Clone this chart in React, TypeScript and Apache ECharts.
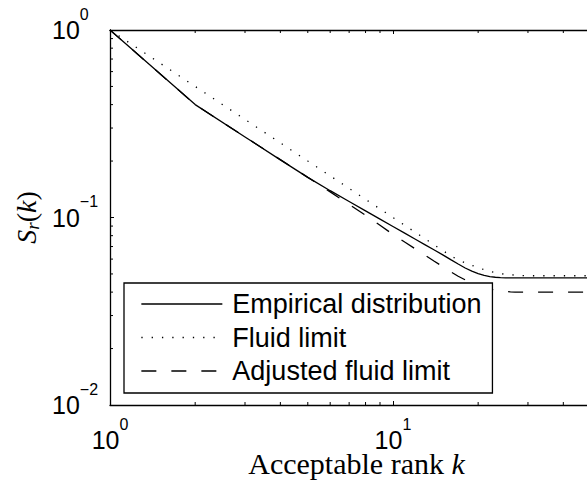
import React, { useEffect, useRef } from 'react';
import * as echarts from 'echarts';

// ---- data ----
const ranks = [1, 2, 3, 4, 5, 6, 7, 8, 9, 10, 11, 12, 13, 14, 15, 16, 17, 18, 19, 20, 21, 22, 23, 24, 25, 26, 27, 28, 29, 30, 35, 40, 45, 50];
const empirical = [1, 0.4, 0.269, 0.203, 0.1636, 0.139, 0.1217, 0.1085, 0.0981, 0.0896, 0.0826, 0.0766, 0.0715, 0.0671, 0.0632, 0.0596, 0.0565, 0.0538, 0.0518, 0.0502, 0.0491, 0.0484, 0.048, 0.0478, 0.0477, 0.0477, 0.0477, 0.0477, 0.0477, 0.0477, 0.0477, 0.0477, 0.0477, 0.0477];
const fluid = [1, 0.5, 0.3333, 0.25, 0.2, 0.1667, 0.1429, 0.125, 0.1111, 0.1, 0.0909, 0.0833, 0.0769, 0.0714, 0.0667, 0.0625, 0.0593, 0.0574, 0.0556, 0.054, 0.0527, 0.0516, 0.0508, 0.0502, 0.0498, 0.0495, 0.0493, 0.0491, 0.049, 0.0489, 0.0489, 0.0489, 0.0489, 0.0489];
const adjusted = [1, 0.4, 0.269, 0.2035, 0.1637, 0.137, 0.1175, 0.1028, 0.0909, 0.0813, 0.074, 0.068, 0.0628, 0.0584, 0.0547, 0.0514, 0.0486, 0.0465, 0.0448, 0.0435, 0.0424, 0.0416, 0.041, 0.0406, 0.0403, 0.0401, 0.04, 0.04, 0.04, 0.04, 0.04, 0.04, 0.04, 0.04];
const seriesNames = ['Empirical distribution', 'Fluid limit', 'Adjusted fluid limit'];
const xMinorTicks = [2, 3, 4, 5, 6, 7, 8, 9, 20, 30, 40];
const yMinorTicks = [0.02, 0.03, 0.04, 0.05, 0.06, 0.07, 0.08, 0.09, 0.2, 0.3, 0.4, 0.5, 0.6, 0.7, 0.8, 0.9];
const xName = 'Acceptable rank {it|k}';
const yName = '{it|S}{sub|r}{up|(}{it|k}{up|)}';

const X_MIN = 1;
const X_MAX = 48.5;
const Y_MIN = 0.01;
const Y_MAX = 1;
const MINOR_LEN = 3;
const SANS = 'Liberation Sans';
const SERIF = 'Liberation Serif';

const expLabel = (v: number) => {
  const e = Math.round(Math.log10(v));
  const s = e < 0 ? '\u2212' + String(-e) : String(e);
  return `{base|10}{sup|${s}}`;
};

const labelRich = {
  base: { fontSize: 25, fontFamily: SANS, color: '#000', lineHeight: 48 },
  sup: { fontSize: 16, fontFamily: SANS, color: '#000', lineHeight: 16, verticalAlign: 'top' },
};

const minorTickSeries = (values: number[], vertical: boolean) => ({
  type: 'custom',
  coordinateSystem: 'cartesian2d',
  silent: true,
  clip: false,
  z: 5,
  data: values.map((v) => (vertical ? [v, Y_MIN] : [X_MIN, v])),
  renderItem: (_params: any, api: any) => {
    const st = { stroke: '#000', lineWidth: 1 };
    if (vertical) {
      const b = api.coord([api.value(0), Y_MIN]);
      const t = api.coord([api.value(0), Y_MAX]);
      return {
        type: 'group',
        children: [
          { type: 'line', shape: { x1: b[0], y1: b[1], x2: b[0], y2: b[1] - MINOR_LEN }, style: st },
          { type: 'line', shape: { x1: t[0], y1: t[1], x2: t[0], y2: t[1] + MINOR_LEN }, style: st },
        ],
      };
    }
    const l = api.coord([X_MIN, api.value(1)]);
    return { type: 'line', shape: { x1: l[0], y1: l[1], x2: l[0] + MINOR_LEN, y2: l[1] }, style: st };
  },
});

export default function App() {
  const ref = useRef<HTMLDivElement>(null);
  useEffect(() => {
    if (!ref.current) return;
    const chart = echarts.init(ref.current, null, { renderer: 'svg' });
    const axisLine = { show: true, lineStyle: { color: '#000', width: 1.3 } };
    const axisTick = { show: true, inside: true, length: 4, lineStyle: { color: '#000', width: 1 } };
    const lineSeries = (name: string, values: number[], type: any, z: number) => ({
      name,
      type: 'line',
      data: ranks.map((k, i) => [k, values[i]]),
      symbol: 'none',
      showSymbol: false,
      silent: true,
      z,
      lineStyle: { color: '#000', width: 1.3, type, cap: 'butt' },
      itemStyle: { color: '#000' },
    });
    chart.setOption({
      animation: false,
      backgroundColor: '#fff',
      grid: { left: 110, top: 30, right: 0, bottom: 76, containLabel: false, outerBoundsMode: 'none' },
      legend: {
        data: seriesNames,
        orient: 'vertical',
        left: 124,
        top: 283,
        backgroundColor: '#fff',
        borderColor: '#000',
        borderWidth: 1.3,
        borderRadius: 0,
        padding: [6, 11, 7, 16.7],
        itemWidth: 81,
        itemHeight: 30,
        itemGap: 3.5,
        selectedMode: false,
        itemStyle: { color: 'rgba(0,0,0,0)', borderColor: 'rgba(0,0,0,0)', borderWidth: 0, opacity: 0 },
        lineStyle: { width: 1.3 },
        textStyle: { fontFamily: SANS, fontSize: 27, color: '#000', lineHeight: 30, padding: [0, 0, 0, 5] },
        z: 10,
      },
      xAxis: [
        {
          type: 'log',
          logBase: 10,
          min: X_MIN,
          max: X_MAX,
          position: 'bottom',
          axisLine,
          axisTick,
          splitLine: { show: false },
          axisLabel: { formatter: expLabel, rich: labelRich, fontSize: 25, fontFamily: SANS, color: '#000', margin: 11, showMaxLabel: false },
          name: xName,
          nameLocation: 'middle',
          nameGap: 43,
          nameMoveOverlap: false,
          nameTextStyle: {
            fontFamily: SERIF,
            fontSize: 30,
            color: '#000',
            padding: [0, 0, 0, 16],
            rich: { it: { fontFamily: SERIF, fontSize: 30, fontStyle: 'italic', color: '#000' } },
          },
        },
        {
          type: 'log',
          logBase: 10,
          min: X_MIN,
          max: X_MAX,
          position: 'top',
          axisLine,
          axisTick,
          splitLine: { show: false },
          axisLabel: { show: false },
        },
      ],
      yAxis: {
        type: 'log',
        logBase: 10,
        min: Y_MIN,
        max: Y_MAX,
        axisLine,
        axisTick,
        splitLine: { show: false },
        axisLabel: { formatter: expLabel, rich: labelRich, fontSize: 25, fontFamily: SANS, color: '#000', margin: 58, align: 'left' },
        name: yName,
        nameLocation: 'middle',
        nameRotate: 90,
        nameGap: 68,
        nameMoveOverlap: false,
        nameTextStyle: {
          color: '#000',
          rich: {
            it: { fontFamily: SERIF, fontSize: 28, fontStyle: 'italic', lineHeight: 30, verticalAlign: 'top', color: '#000' },
            up: { fontFamily: SERIF, fontSize: 28, lineHeight: 30, verticalAlign: 'top', color: '#000' },
            sub: { fontFamily: SERIF, fontSize: 19, fontStyle: 'italic', lineHeight: 19, verticalAlign: 'bottom', color: '#000' },
          },
        },
      },
      series: [
        lineSeries(seriesNames[0], empirical, 'solid', 4),
        lineSeries(seriesNames[1], fluid, [1.3, 9], 3),
        lineSeries(seriesNames[2], adjusted, [15, 15], 3),
        minorTickSeries(xMinorTicks, true),
        minorTickSeries(yMinorTicks, false),
      ],
    });
    return () => chart.dispose();
  }, []);
  return <div ref={ref} style={{ position: 'fixed', left: 0, top: 0, width: 587, height: 481, background: '#fff' }} />;
}
